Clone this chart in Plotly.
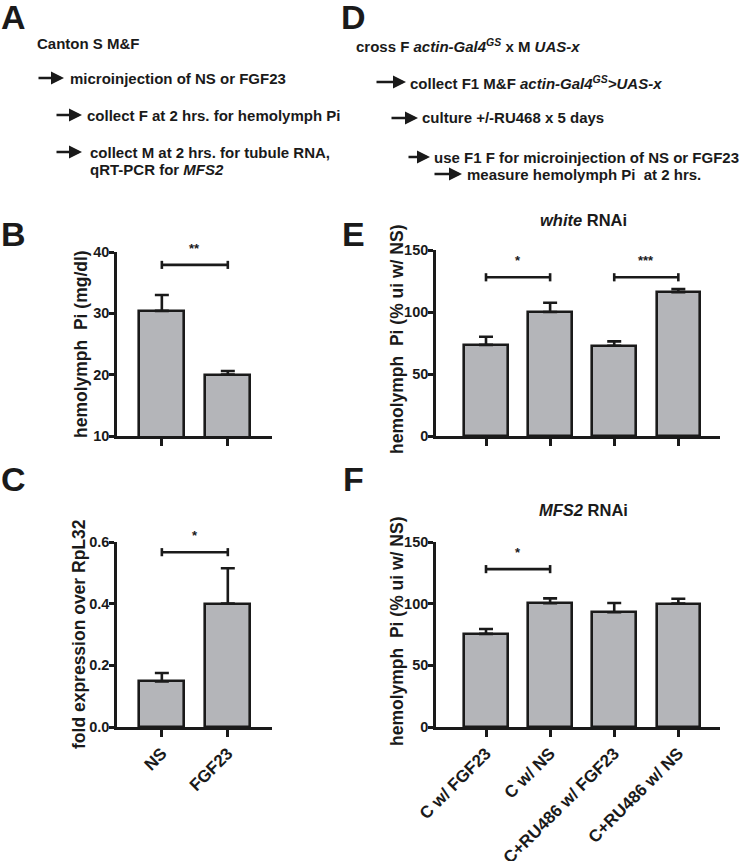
import plotly.graph_objects as go

# ---------------- data ----------------
b_categories = ["NS", "FGF23"]
b_values = [30.4, 20.0]
b_errors = [2.6, 0.6]

c_categories = ["NS", "FGF23"]
c_values = [0.148, 0.40]
c_errors = [0.027, 0.115]

e_categories = ["C w/ FGF23", "C w/ NS", "C+RU486 w/ FGF23", "C+RU486 w/ NS"]
e_values = [73.5, 100.0, 72.8, 116.0]
e_errors = [6.5, 7.5, 3.5, 2.5]

f_categories = ["C w/ FGF23", "C w/ NS", "C+RU486 w/ FGF23", "C+RU486 w/ NS"]
f_values = [75.5, 100.3, 93.0, 100.0]
f_errors = [4.0, 4.0, 7.5, 4.0]

# significance brackets: (from index, to index, height, label)
b_sig = [(0, 1, 37.9, "**")]
c_sig = [(0, 1, 0.567, "*")]
e_sig = [(0, 1, 128, "*"), (2, 3, 128, "***")]
f_sig = [(0, 1, 128, "*")]

b_ticks = [10, 20, 30, 40]
c_ticks = [0.0, 0.2, 0.4, 0.6]
ef_ticks = [0, 50, 100, 150]

# ---------------- helpers ----------------
W, H = 750, 861
FONT = "Liberation Sans, Arial, sans-serif"
INK = "#1a1a1a"
BAR_FILL = "#b4b5b9"
LW = 2.6


def px(x):
    return x / W


def py(y):
    return 1 - y / H


fig = go.Figure()

panels = [
    ("1", b_categories, b_values, b_errors, b_sig, b_ticks, [10, 40], (117, 272), (252, 436), [-0.68, 1.67], None, False),
    ("2", c_categories, c_values, c_errors, c_sig, c_ticks, [0, 0.6], (117, 272), (542, 727), [-0.68, 1.67], ".1f", True),
    ("3", e_categories, e_values, e_errors, e_sig, ef_ticks, [0, 150], (436, 720), (250, 436), [-0.78, 3.65], None, False),
    ("4", f_categories, f_values, f_errors, f_sig, ef_ticks, [0, 150], (436, 720), (542, 727), [-0.78, 3.65], None, True),
]

layout_axes = {}
shapes = []
annotations = []

for name, cats, vals, errs, sig, ticks, yr, xd, yd, xr, fmt, showx in panels:
    xa = "x" if name == "1" else "x" + name
    ya = "y" if name == "1" else "y" + name
    xs = list(range(len(cats)))
    fig.add_trace(go.Bar(
        x=xs, y=vals, xaxis=xa, yaxis=ya, width=0.68,
        marker=dict(color=BAR_FILL, line=dict(color=INK, width=LW)),
        error_y=dict(type="data", array=errs, arrayminus=[0] * len(errs), symmetric=False,
                     color=INK, thickness=LW, width=7),
        showlegend=False, hoverinfo="skip",
    ))
    xkey = "xaxis" if name == "1" else "xaxis" + name
    ykey = "yaxis" if name == "1" else "yaxis" + name
    layout_axes[xkey] = dict(
        domain=[px(xd[0]), px(xd[1])], anchor=ya, range=xr, automargin=False,
        tickmode="array", tickvals=xs, ticktext=cats if showx else [""] * len(cats),
        showticklabels=showx, tickangle=-45,
        ticks="outside", ticklen=7, tickwidth=LW, tickcolor=INK,
        showline=True, linewidth=LW, linecolor=INK,
        showgrid=False, zeroline=False, fixedrange=True,
        tickfont=dict(family=FONT, size=17, color=INK, weight="bold"),
    )
    layout_axes[ykey] = dict(
        domain=[py(yd[1]), py(yd[0])], anchor=xa, range=yr, automargin=False,
        tickmode="array", tickvals=ticks,
        tickformat=fmt if fmt else "d",
        ticks="outside", ticklen=5, tickwidth=LW, tickcolor=INK,
        ticklabelstandoff=-3,
        showline=True, linewidth=LW, linecolor=INK,
        showgrid=False, zeroline=False, fixedrange=True,
        tickfont=dict(family=FONT, size=14.5, color=INK, weight="bold"),
    )
    span = yr[1] - yr[0]
    for i0, i1, h, lab in sig:
        cap = span * 0.022
        shapes.append(dict(type="line", xref=xa, yref=ya, x0=i0, x1=i1, y0=h, y1=h,
                           line=dict(color=INK, width=LW)))
        for ii in (i0, i1):
            shapes.append(dict(type="line", xref=xa, yref=ya, x0=ii, x1=ii, y0=h - cap, y1=h + cap,
                               line=dict(color=INK, width=LW)))
        annotations.append(dict(xref=xa, yref=ya, x=(i0 + i1) / 2, y=h + span * 0.04,
                                text=lab, showarrow=False, yanchor="bottom",
                                font=dict(family=FONT, size=13, color=INK, weight="bold")))

fig.update_layout(**layout_axes)


def txt(x, y, s, size=15, xanchor="left", angle=0):
    annotations.append(dict(xref="paper", yref="paper", x=px(x), y=py(y), text=s,
                            showarrow=False, xanchor=xanchor, yanchor="middle", textangle=angle,
                            font=dict(family=FONT, size=size, color=INK, weight="bold")))


def arrow(x0, x1, y):
    annotations.append(dict(xref="paper", yref="paper", x=px(x1), y=py(y), text="",
                            showarrow=True, axref="pixel", ayref="pixel", ax=-(x1 - x0), ay=0,
                            arrowhead=2, arrowsize=1.0, arrowwidth=2.6, arrowcolor=INK))


# panel letters
for letter, x, y in [("A", 13, 17), ("D", 353, 17), ("B", 13, 234), ("C", 13, 479), ("E", 353, 234), ("F", 353, 479)]:
    txt(x, y, letter, size=34, xanchor="center")

# protocol A
txt(35, 43, "Canton S M&F")
arrow(37, 64, 78)
txt(68, 78, "microinjection of NS or FGF23")
arrow(55, 82, 115)
txt(85, 115, "collect F at 2 hrs. for hemolymph Pi")
arrow(55, 82, 152)
txt(88, 152, "collect M at 2 hrs. for tubule RNA,")
txt(88, 170, "qRT-PCR for <i>MFS2</i>")

# protocol D
txt(354, 45, "cross F <i>actin-Gal4<sup>GS</sup></i> x M <i>UAS-x</i>")
arrow(375, 406, 82)
txt(408, 82, "collect F1 M&F <i>actin-Gal4<sup>GS</sup>&gt;UAS-x</i>")
arrow(390, 418, 118)
txt(420, 118, "culture +/-RU468 x 5 days")
arrow(407, 430, 157)
txt(432, 157, "use F1 F for microinjection of NS or FGF23")
arrow(433, 462, 174)
txt(465, 174, "measure hemolymph Pi  at 2 hrs.")

# panel titles
txt(583, 220, "<i>white</i> RNAi", size=16.5, xanchor="center")
txt(583, 510, "<i>MFS2</i> RNAi", size=16.5, xanchor="center")

# y-axis titles
txt(81, 344, "hemolymph  Pi (mg/dl)", size=17.5, xanchor="center", angle=-90)
txt(79, 634, "fold expression over RpL32", size=17.5, xanchor="center", angle=-90)
txt(397, 340, "hemolymph  Pi (% ui w/ NS)", size=17.5, xanchor="center", angle=-90)
txt(397, 632, "hemolymph  Pi (% ui w/ NS)", size=17.5, xanchor="center", angle=-90)

fig.update_layout(
    width=W, height=H,
    margin=dict(l=0, r=0, t=0, b=0, autoexpand=False),
    paper_bgcolor="white", plot_bgcolor="white",
    shapes=shapes, annotations=annotations,
    bargap=0, showlegend=False,
    font=dict(family=FONT, color=INK),
)

fig.write_html(
    "out.html",
    config={"displayModeBar": False},
    post_script="document.body.style.margin='0';document.body.style.overflow='hidden';",
)
